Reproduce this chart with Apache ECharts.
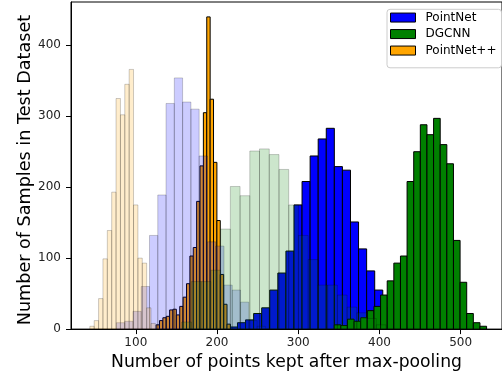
<!DOCTYPE html>
<html><head><meta charset="utf-8">
<script src="https://cdn.jsdelivr.net/npm/echarts@6/dist/echarts.min.js"></script>
<style>html,body{margin:0;padding:0;background:#fff}#c{width:502px;height:376px}</style>
</head><body><div id="c"></div>
<script>
// ---- data (x in "number of points", y in sample counts) ----
const xTicks = [100, 200, 300, 400, 500];
const yTicks = [0, 100, 200, 300, 400];
const legendNames = ['PointNet', 'DGCNN', 'PointNet++'];

// solid histograms
const pointnetStart = 205.3, pointnetBin = 9.94;
const pointnetCounts = [1, 3, 9, 13, 22, 30, 55, 79, 110, 175, 208, 244, 268, 283, 229, 224, 151, 113, 82, 55, 30, 12, 5, 2];
const dgcnnStart = 344.3, dgcnnBin = 8.157;
const dgcnnCounts = [6, 5, 14, 11, 16, 26, 32, 48, 68, 93, 103, 208, 250, 288, 274, 297, 260, 233, 125, 66, 22, 9, 4];
const pointnetppStart = 125.0, pointnetppBin = 4.158;
const pointnetppCounts = [6, 12, 16, 18, 27, 28, 20, 32, 45, 64, 103, 115, 180, 230, 305, 440, 324, 235, 153, 77, 35, 7];

// faded histograms
const fadedPointnetStart = 76.1, fadedPointnetBin = 10.19;
const fadedPointnetCounts = [9, 11, 25, 60, 132, 189, 318, 354, 320, 310, 244, 123, 117, 62, 55, 38, 12, 4];
const fadedDgcnnStart = 156.5, fadedDgcnnBin = 11.98;
const fadedDgcnnCounts = [10, 67, 67, 83, 141, 201, 188, 251, 254, 246, 225, 175, 132, 98, 62, 62, 48, 31, 23, 15, 6];
const fadedPointnetppStart = 43.4, fadedPointnetppBin = 5.38;
const fadedPointnetppCounts = [4, 12, 43, 99, 139, 193, 325, 302, 345, 366, 175, 100, 93, 30, 8];

function bins(start, width, counts) {
  return counts.map((c, i) => [start + i * width, start + (i + 1) * width, c]);
}

function barSeries(name, data, fill, stroke) {
  return {
    type: 'custom', name: name, data: data, clip: true,
    encode: { x: [0, 1], y: 2 },
    itemStyle: { color: fill, borderColor: stroke, borderWidth: 1 },
    renderItem: function (params, api) {
      const p0 = api.coord([api.value(0), 0]);
      const p1 = api.coord([api.value(1), api.value(2)]);
      return {
        type: 'rect',
        shape: { x: p0[0], y: p1[1], width: p1[0] - p0[0], height: p0[1] - p1[1] },
        style: { fill: fill, stroke: stroke, lineWidth: 1 }
      };
    }
  };
}

const font = 'DejaVu Sans';
const chart = echarts.init(document.getElementById('c'), null, { renderer: 'canvas' });
chart.setOption({
  animation: false,
  backgroundColor: '#fff',
  grid: { left: 71, right: -3, top: 2, bottom: 46.7, show: true, borderColor: '#000', borderWidth: 1, backgroundColor: 'transparent' },
  legend: {
    orient: 'vertical', left: 387, top: 9.3,
    padding: [0, 5, 9, 3],
    itemWidth: 25, itemHeight: 9, itemGap: 0,
    icon: 'rect',
    backgroundColor: 'rgba(255,255,255,0.8)', borderColor: '#cccccc', borderWidth: 1, borderRadius: 3,
    textStyle: { fontFamily: font, fontSize: 12, color: '#000', lineHeight: 16.5, padding: [0, 0, 0, 5] },
    data: [
      { name: legendNames[0], itemStyle: { color: '#0000ff', borderColor: '#000', borderWidth: 1 } },
      { name: legendNames[1], itemStyle: { color: '#008000', borderColor: '#000', borderWidth: 1 } },
      { name: legendNames[2], itemStyle: { color: '#ffa500', borderColor: '#000', borderWidth: 1 } }
    ],
    selectedMode: false
  },
  xAxis: {
    type: 'value', min: 20.2, max: 550.9,
    name: 'Number of points kept after max-pooling', nameLocation: 'middle', nameGap: 22,
    nameTextStyle: { fontFamily: font, fontSize: 17.2, color: '#000' },
    axisLine: { show: true, lineStyle: { color: '#000', width: 1 } },
    axisTick: { show: true, length: 5, lineStyle: { color: '#000' }, customValues: xTicks },
    axisLabel: { fontFamily: font, fontSize: 12, color: '#222', margin: 8, customValues: xTicks },
    splitLine: { show: false }
  },
  yAxis: {
    type: 'value', min: 0, max: 461,
    name: 'Number of Samples in Test Dataset', nameLocation: 'middle', nameGap: 37,
    nameMoveOverlap: false,
    nameTextStyle: { fontFamily: font, fontSize: 17.6, color: '#000', padding: [0, 9, 0, 0] },
    axisLine: { show: true, lineStyle: { color: '#000', width: 1 } },
    axisTick: { show: true, length: 5, lineStyle: { color: '#000' }, customValues: yTicks },
    axisLabel: { fontFamily: font, fontSize: 12, color: '#222', margin: 10, customValues: yTicks },
    splitLine: { show: false }
  },
  series: [
    barSeries(legendNames[0], bins(pointnetStart, pointnetBin, pointnetCounts), '#0000ff', '#000000'),
    barSeries(legendNames[1], bins(dgcnnStart, dgcnnBin, dgcnnCounts), '#008000', '#000000'),
    barSeries(legendNames[2], bins(pointnetppStart, pointnetppBin, pointnetppCounts), '#ffa500', '#000000'),
    barSeries('PointNet (faded)', bins(fadedPointnetStart, fadedPointnetBin, fadedPointnetCounts), 'rgba(0,0,255,0.2)', 'rgba(0,0,0,0.2)'),
    barSeries('DGCNN (faded)', bins(fadedDgcnnStart, fadedDgcnnBin, fadedDgcnnCounts), 'rgba(0,128,0,0.2)', 'rgba(0,0,0,0.2)'),
    barSeries('PointNet++ (faded)', bins(fadedPointnetppStart, fadedPointnetppBin, fadedPointnetppCounts), 'rgba(255,165,0,0.2)', 'rgba(0,0,0,0.2)')
  ]
});
</script>
</body></html>
